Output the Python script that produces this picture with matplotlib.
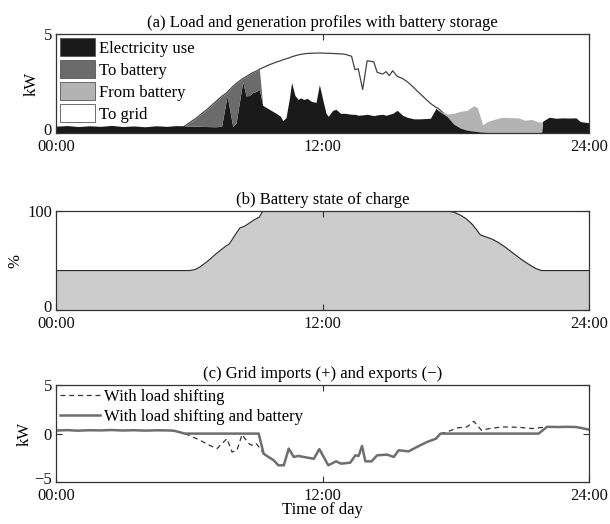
import numpy as np
import matplotlib.pyplot as plt
from matplotlib.patches import Patch
from matplotlib.transforms import ScaledTranslation

plt.rcParams['font.family'] = ['Liberation Serif', 'DejaVu Serif']
plt.rcParams['font.size'] = 12

# (a) household load and PV generation, kW
hours_a = [0.0, 0.5, 1.0, 1.5, 2.0, 2.5, 3.0, 3.5, 4.0, 4.5, 5.0, 5.4,
           5.8, 6.3, 6.8, 7.2, 7.45, 7.7, 7.95, 8.1, 8.4, 8.55, 8.7, 8.85, 9.0, 9.15, 9.3,
           9.6, 9.9, 10.1, 10.2, 10.35, 10.5, 10.6, 10.75, 10.9, 11.0, 11.15, 11.3,
           11.5, 11.7, 11.85, 12.0, 12.15, 12.25, 12.45, 12.6, 12.8, 13.0, 13.3,
           13.45, 13.6, 13.8, 14.0, 14.3, 14.45, 14.7, 14.85, 15.0, 15.15, 15.35,
           15.6, 15.8, 16.1, 16.4, 16.85, 17.1, 17.2,
           17.6, 17.9, 18.2, 18.5, 18.8, 18.95, 19.1, 19.2, 19.45, 19.8, 20.1,
           20.5, 20.8, 21.1, 21.4, 21.7, 21.85,
           21.9, 22.2, 22.5, 22.8, 23.1, 23.4, 23.6, 23.8, 24.0]
load_kw = [0.35, 0.38, 0.33, 0.37, 0.34, 0.39, 0.33, 0.36, 0.32, 0.37, 0.34, 0.38,
           0.36, 0.35, 0.33, 0.32, 0.35, 1.9, 0.33, 0.5, 2.6, 1.88, 1.9, 2.05, 2.1, 2.2, 1.4,
           1.2, 1.0, 0.85, 0.63, 0.78, 1.75, 2.56, 1.9, 1.7, 1.78, 1.7, 1.75,
           1.6, 1.55, 2.45, 1.7, 1.0, 0.85, 1.15, 1.2, 1.0, 1.0, 0.95,
           0.95, 0.9, 0.92, 0.95, 0.88, 0.92, 0.95, 0.9, 0.95, 1.0, 1.15,
           0.9, 0.8, 0.72, 0.72, 0.75, 1.25, 1.15,
           0.96, 1.0, 1.1, 1.15, 1.38, 1.3, 0.8, 0.42, 0.6, 0.72, 0.8,
           0.78, 0.77, 0.65, 0.69, 0.57, 0.55,
           0.6, 0.8, 0.75, 0.77, 0.76, 0.77, 0.58, 0.55, 0.52]
pv_kw = [0, 0, 0, 0, 0, 0, 0, 0, 0, 0, 0, 0.12,
         0.36, 0.75, 1.2, 1.6, 1.85, 2.05, 2.35, 2.5, 2.75, 2.85, 2.95, 3.05, 3.12, 3.22, 3.3,
         3.45, 3.58, 3.65, 3.7, 3.75, 3.8, 3.85, 3.9, 3.95, 3.97, 4.0, 4.02,
         4.03, 4.04, 4.04, 4.04, 4.03, 4.03, 4.02, 4.01, 4.0, 3.98, 3.88,
         3.2, 3.25, 2.2, 3.65, 3.6, 3.07, 2.98, 3.1, 2.9, 3.15, 2.87,
         2.75, 2.6, 2.3, 1.97, 1.5, 1.3, 1.25,
         0.84, 0.45, 0.25, 0.15, 0.1, 0.08, 0.06, 0.05, 0.03, 0.0, 0.0,
         0, 0, 0, 0, 0, 0,
         0, 0, 0, 0, 0, 0, 0, 0, 0]
charge_window = (5.8, 9.25)
discharge_window = (17.15, 21.86)

# (b) battery state of charge, %
hours_soc = [0.0, 6.0, 6.25, 6.5, 6.85, 7.2, 7.6, 7.8, 8.0, 8.27, 8.5, 8.9, 9.15, 9.3,
             17.65, 17.9, 18.2, 18.45, 18.7, 18.9, 19.1, 19.35, 19.6, 19.9, 20.2,
             20.55, 20.9, 21.3, 21.6, 21.85, 24.0]
soc_pct = [40, 40, 41, 44, 50, 57, 64, 67, 74, 83, 85, 91, 94, 100,
           100, 99, 96, 92.5, 87.5, 82, 76, 74, 72, 68.5, 64,
           58, 52, 46, 42, 40, 40]

# (c) grid exchange, kW
hours_grid = [0.0, 0.5, 1.0, 1.5, 2.0, 2.5, 3.0, 3.5, 4.0, 4.5, 5.0, 5.3, 5.8,
              9.12, 9.34, 9.56, 9.8, 10.0, 10.25, 10.47, 10.7, 10.9, 11.15, 11.6,
              11.85, 12.25, 12.6, 12.83, 13.24, 13.47, 13.62, 13.77, 13.92, 14.2,
              14.45, 14.9, 15.2, 15.42, 15.87, 16.24, 16.7, 17.1, 17.3,
              21.72, 22.1, 22.6, 23.0, 23.4, 23.7, 24.0]
grid_batt_kw = [0.32, 0.36, 0.3, 0.35, 0.33, 0.37, 0.32, 0.35, 0.31, 0.34, 0.33, 0.3, 0.0,
                0.0, -2.07, -2.41, -2.76, -3.27, -3.27, -1.55, -2.41, -2.3, -2.41, -2.6,
                -1.6, -3.27, -2.86, -3.1, -3.0, -2.24, -2.3, -1.28, -2.86, -2.86,
                -2.24, -2.17, -2.41, -1.72, -1.83, -1.38, -0.86, -0.52, 0.0,
                0.0, 0.7, 0.68, 0.7, 0.68, 0.55, 0.4]
shift_am_hours = [5.8, 6.4, 6.9, 7.24, 7.69, 7.92, 8.14, 8.37, 8.66, 8.8, 9.0, 9.24, 9.34]
shift_am_kw = [0.0, -0.6, -1.2, -1.55, -0.52, -1.9, -1.72, -0.1, -1.0, -1.2, -1.0, -1.72, -2.07]
shift_pm_hours = [17.3, 17.6, 18.05, 18.5, 18.8, 19.15, 19.5, 20.1, 20.85, 21.45, 21.75, 22.1]
shift_pm_kw = [0.0, 0.17, 0.59, 0.69, 1.27, 0.34, 0.52, 0.69, 0.65, 0.52, 0.6, 0.7]

c_use = '#1a1a1a'
c_to = '#6b6b6b'
c_from = '#b3b3b3'
c_edge = '#333333'

t = np.array(hours_a)
load = np.array(load_kw)
pv = np.array(pv_kw)
charging = (t >= charge_window[0]) & (t <= charge_window[1])
to_batt = np.where(charging, np.clip(pv - load, 0, None), 0)
discharging = (t >= discharge_window[0]) & (t <= discharge_window[1])
from_batt = np.where(discharging, np.clip(load - pv, 0, None), 0)
direct = load - from_batt

fig = plt.figure(figsize=(6.1, 5.24), dpi=100)
ax1 = fig.add_axes([0.092, 0.746, 0.874, 0.189])
ax2 = fig.add_axes([0.092, 0.408, 0.874, 0.189])
ax3 = fig.add_axes([0.092, 0.080, 0.874, 0.185])

xticks = [0, 12, 24]
xlabels = ['00:00', '12:00', '24:00']
for ax in (ax1, ax2, ax3):
    ax.set_xlim(0, 24)
    ax.set_xticks(xticks)
    ax.set_xticklabels(xlabels)
    ax.tick_params(direction='in', top=True, right=True, length=4, width=0.8,
                   labelsize=12, colors=c_edge, labelcolor='#111111')
    ax.tick_params(axis='x', pad=4)
    ax.tick_params(axis='y', pad=3)
    for s in ax.spines.values():
        s.set_color(c_edge)
        s.set_linewidth(0.9)

# panel a
ax1.plot(t, pv, color='#444444', lw=0.9, zorder=1)
ax1.fill_between(t, 0, direct, color=c_use, lw=0, zorder=2)
ax1.fill_between(t, direct, direct + to_batt, color=c_to, lw=0, zorder=2)
ax1.fill_between(t, direct, load, color=c_from, lw=0, zorder=2)
ax1.set_ylim(0, 5)
ax1.set_yticks([0, 5])
ax1.set_ylabel('kW', labelpad=3)
ax1.set_title('(a) Load and generation profiles with battery storage', fontsize=12, pad=5)
handles = [Patch(facecolor=c_use, edgecolor='#555555', lw=0.6, label='Electricity use'),
           Patch(facecolor=c_to, edgecolor='#555555', lw=0.6, label='To battery'),
           Patch(facecolor=c_from, edgecolor='#555555', lw=0.6, label='From battery'),
           Patch(facecolor='white', edgecolor='#555555', lw=0.6, label='To grid')]
ax1.legend(handles=handles, loc='upper left', frameon=False, fontsize=12,
           handlelength=2.1, handleheight=1.3, labelspacing=0.2, handletextpad=0.25,
           borderaxespad=0.05, borderpad=0.2)

# panel b
ax2.fill_between(hours_soc, 0, soc_pct, color='#cccccc', lw=0)
ax2.plot(hours_soc, soc_pct, color='#222222', lw=0.8)
ax2.set_ylim(0, 100)
ax2.set_yticks([0, 100])
ax2.set_ylabel('%', labelpad=3)
ax2.set_title('(b) Battery state of charge', fontsize=12, pad=5)

# panel c
ax3.plot(shift_am_hours, shift_am_kw, color='#333333', lw=0.9, dashes=(4, 3),
         label='With load shifting')
ax3.plot(shift_pm_hours, shift_pm_kw, color='#333333', lw=0.9, dashes=(4, 3))
ax3.plot(hours_grid, grid_batt_kw, color='#6e6e6e', lw=1.8,
         label='With load shifting and battery')
ax3.set_ylim(-5, 5)
ax3.set_yticks([-5, 0, 5])
ax3.set_ylabel('kW', labelpad=1)
ax3.set_xlabel('Time of day', labelpad=-1)
ax3.set_title('(c) Grid imports (+) and exports (\u2212)', fontsize=12, pad=5)
ax3.legend(loc='upper left', frameon=False, fontsize=12, handlelength=2.4,
           handletextpad=0.25, labelspacing=0.2, borderaxespad=0.05, borderpad=0.2)

# lift the lowest y label a little so it clears the first time label
nudge = ScaledTranslation(0, 3 / 72, fig.dpi_scale_trans)
for ax in (ax1, ax2, ax3):
    lab = ax.get_yticklabels()[0]
    lab.set_transform(lab.get_transform() + nudge)

fig.savefig('out.png', dpi=100)
